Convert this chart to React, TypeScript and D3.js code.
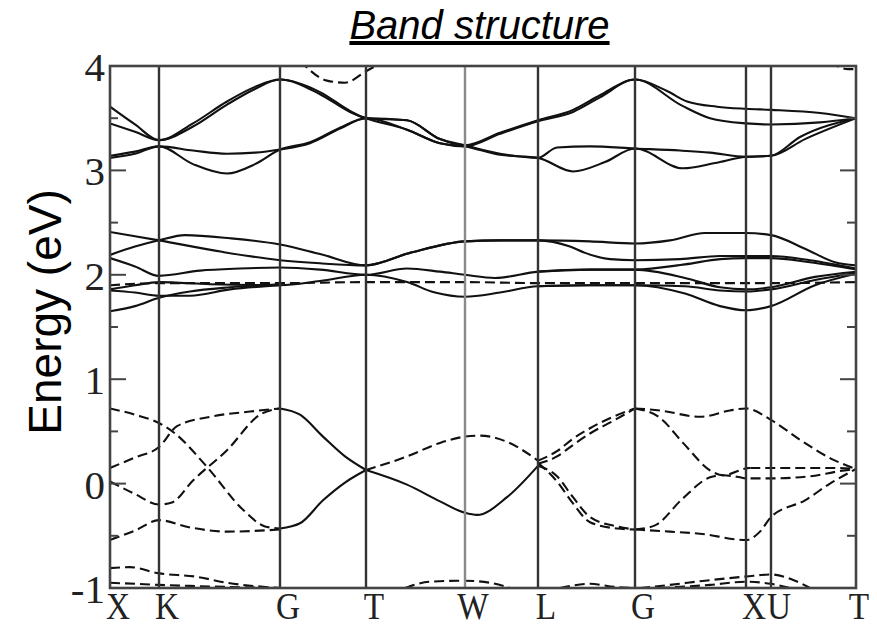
import React from "react";
import * as d3 from "d3";

type P = [number, number];

// High-symmetry points along the path (k-distance, arbitrary units)
const kLabels = ["X", "K", "G", "T", "W", "L", "G", "X", "U", "T"];
const kPos = [0, 0.49, 1.7, 2.56, 3.55, 4.28, 5.25, 6.36, 6.61, 7.46];
const [kX, kK, kG, kT, kW, kL, kG2, kX2, kU, kT2] = kPos;

const yMajorTicks = [-1, 0, 1, 2, 3, 4];
const yMinorTicks = [-0.5, 0.5, 1.5, 2.5, 3.5];

const titleText = "Band structure";
const yAxisTitle = "Energy (eV)";

// Upper conduction group (solid)
const upperBands: P[][] = [
  [[kX, 3.61], [0.25, 3.44], [kK, 3.29], [0.83, 3.45], [1.17, 3.66], [1.45, 3.8], [kG, 3.87], [2.1, 3.75], [2.4, 3.57], [kT, 3.5], [2.97, 3.48], [3.3, 3.3], [kW, 3.24], [3.9, 3.36], [kL, 3.48], [4.63, 3.58], [4.9, 3.72], [kG2, 3.87], [5.57, 3.76], [5.77, 3.66], [6.07, 3.61], [kX2, 3.59], [kU, 3.58], [7.1, 3.55], [kT2, 3.5]],
  [[kX, 3.45], [0.25, 3.37], [kK, 3.29], [0.83, 3.42], [1.17, 3.63], [1.45, 3.78], [kG, 3.87], [2.1, 3.73], [2.4, 3.56], [kT, 3.5], [2.97, 3.39], [3.3, 3.26], [kW, 3.23], [3.9, 3.35], [kL, 3.47], [4.63, 3.56], [4.9, 3.7], [kG2, 3.87], [5.72, 3.62], [6.0, 3.5], [kX2, 3.45], [kU, 3.44], [7.1, 3.46], [kT2, 3.5]],
  [[kX, 3.14], [0.25, 3.18], [kK, 3.23], [0.83, 3.19], [1.17, 3.16], [1.45, 3.17], [kG, 3.2], [2.0, 3.26], [2.3, 3.4], [kT, 3.5], [2.97, 3.48], [3.3, 3.3], [kW, 3.24], [3.9, 3.16], [kL, 3.12], [4.47, 3.22], [4.8, 3.23], [kG2, 3.21], [5.7, 3.19], [6.0, 3.17], [kX2, 3.13], [kU, 3.14], [6.9, 3.32], [kT2, 3.5]],
  [[kX, 3.12], [0.25, 3.16], [kK, 3.23], [0.83, 3.06], [1.17, 2.97], [1.45, 3.06], [kG, 3.2], [2.0, 3.27], [2.3, 3.41], [kT, 3.5], [2.97, 3.39], [3.3, 3.26], [kW, 3.23], [3.9, 3.15], [kL, 3.12], [4.63, 2.99], [4.95, 3.08], [kG2, 3.21], [5.73, 3.02], [6.05, 3.07], [kX2, 3.13], [kU, 3.14], [6.95, 3.3], [kT2, 3.5]],
];

// Middle conduction group (solid)
const middleBands: P[][] = [
  [[kX, 2.19], [0.25, 2.27], [kK, 2.33], [0.75, 2.38], [1.2, 2.35], [kG, 2.29], [2.1, 2.2], [kT, 2.09], [3.0, 2.21], [kW, 2.32], [3.9, 2.33], [kL, 2.33], [4.8, 2.32], [kG2, 2.3], [5.6, 2.33], [5.95, 2.4], [kX2, 2.4], [kU, 2.38], [6.95, 2.25], [7.25, 2.12], [kT2, 2.09]],
  [[kX, 2.41], [0.25, 2.37], [kK, 2.33], [1.12, 2.22], [kG, 2.14], [2.1, 2.11], [kT, 2.09], [3.0, 2.21], [kW, 2.32], [3.9, 2.33], [kL, 2.33], [4.6, 2.27], [4.75, 2.21], [5.0, 2.15], [kG2, 2.14], [5.7, 2.15], [6.1, 2.18], [kX2, 2.18], [kU, 2.18], [7.0, 2.14], [kT2, 2.06]],
  [[kX, 2.16], [0.25, 2.08], [kK, 1.99], [0.9, 2.04], [1.3, 2.06], [kG, 2.07], [2.1, 2.05], [kT, 2.0], [2.97, 2.06], [3.3, 2.03], [kW, 2.0], [3.85, 1.97], [kL, 2.03], [4.8, 2.05], [kG2, 2.05], [5.75, 2.1], [6.1, 2.15], [kX2, 2.16], [kU, 2.16], [7.0, 2.12], [kT2, 2.05]],
  [[kL, 2.03], [4.8, 2.05], [kG2, 2.05], [5.75, 1.97], [6.1, 1.88], [kX2, 1.86], [kU, 1.88], [7.05, 1.98], [kT2, 2.03]],
  [[kX, 1.86], [0.25, 1.9], [kK, 1.93], [1.0, 1.91], [kG, 1.9], [2.1, 1.94], [kT, 2.0], [2.97, 1.93], [3.25, 1.83], [kW, 1.79], [3.9, 1.83], [kL, 1.89], [4.8, 1.9], [kG2, 1.9], [5.75, 1.89], [6.1, 1.85], [kX2, 1.84], [kU, 1.86], [7.05, 1.95], [kT2, 2.02]],
  [[kL, 1.89], [4.8, 1.9], [kG2, 1.9], [5.75, 1.82], [6.1, 1.7], [kX2, 1.66], [kU, 1.7], [7.05, 1.9], [kT2, 2.01]],
  [[kX, 1.85], [0.25, 1.83], [kK, 1.8], [0.8, 1.8], [1.2, 1.86], [kG, 1.9]],
  [[kX, 1.65], [0.25, 1.7], [kK, 1.78], [0.8, 1.84], [1.2, 1.88], [kG, 1.91]],
];

// Valence bands drawn solid
const valenceSolid: P[][] = [
  [[kG, 0.72], [1.9, 0.66], [2.13, 0.45], [2.35, 0.26], [kT, 0.13]],
  [[kG, -0.43], [1.9, -0.38], [2.13, -0.16], [2.35, 0.01], [kT, 0.13]],
  [[kT, 0.13], [2.97, -0.01], [3.3, -0.17], [kW, -0.28], [3.67, -0.3], [3.97, -0.13], [kL, 0.17]],
];

// Dashed bands
const dashedBands: P[][] = [
  // flat band near 1.92 eV
  [[kX, 1.9], [kK, 1.92], [kG, 1.92], [kT, 1.93], [kW, 1.93], [kL, 1.92], [kG2, 1.92], [kX2, 1.92], [kU, 1.92], [kT2, 1.93]],
  // top, near 4 eV
  [[1.9, 4.05], [2.17, 3.86], [2.35, 3.84], [kT, 3.95], [2.75, 4.05]],
  [[7.2, 4.04], [7.38, 3.97], [kT2, 3.97]],
  // X - K - G
  [[kX, 0.72], [0.25, 0.66], [kK, 0.58], [0.65, 0.48], [0.97, 0.16], [1.33, -0.25], [1.55, -0.41], [kG, -0.43]],
  [[kX, 0.15], [0.25, 0.25], [kK, 0.35], [0.67, 0.55], [1.0, 0.64], [1.4, 0.69], [kG, 0.72]],
  [[kX, 0.02], [0.25, -0.1], [kK, -0.2], [0.62, -0.18], [0.83, 0.03], [1.17, 0.32], [1.5, 0.66], [kG, 0.72]],
  [[kX, -0.54], [0.25, -0.45], [kK, -0.35], [0.8, -0.42], [1.17, -0.46], [kG, -0.44]],
  [[kX, -0.81], [0.2, -0.8], [kK, -0.86], [0.85, -0.89], [1.17, -0.95], [kG, -1.0]],
  [[kX, -0.95], [0.25, -0.96], [kK, -0.97], [0.8, -0.98], [kG, -1.0]],
  // T - W - L
  [[kT, 0.13], [2.97, 0.26], [3.3, 0.39], [kW, 0.45], [3.7, 0.46], [3.97, 0.4], [kL, 0.22]],
  [[2.95, -1.0], [3.2, -0.94], [kW, -0.93], [3.8, -0.95], [4.0, -1.0]],
  // L - G
  [[kL, 0.22], [4.47, 0.31], [4.63, 0.43], [4.8, 0.53], [5.03, 0.64], [kG2, 0.72]],
  [[kL, 0.19], [4.47, 0.26], [4.63, 0.37], [4.8, 0.48], [5.05, 0.61], [kG2, 0.72]],
  [[kL, 0.17], [4.47, 0.07], [4.63, -0.13], [4.8, -0.32], [5.07, -0.41], [kG2, -0.44]],
  [[kL, 0.2], [4.47, 0.02], [4.63, -0.19], [4.8, -0.37], [5.07, -0.43], [kG2, -0.44]],
  [[4.5, -1.0], [4.8, -0.96], [5.05, -0.99], [kG2, -1.0]],
  // G - X - U - T
  [[kG2, 0.72], [5.5, 0.7], [5.9, 0.64], [6.2, 0.7], [kX2, 0.72], [kU, 0.61], [6.9, 0.42], [7.23, 0.23], [kT2, 0.14]],
  [[kG2, 0.72], [5.5, 0.63], [5.73, 0.39], [6.03, 0.11], [6.13, 0.08], [6.4, 0.15], [kX2, 0.15], [kU, 0.15], [7.2, 0.15], [kT2, 0.14]],
  [[kG2, -0.44], [5.45, -0.4], [5.72, -0.15], [6.0, 0.06], [6.13, 0.08], [6.3, 0.06], [kX2, 0.05], [kU, 0.05], [7.0, 0.07], [7.3, 0.12], [kT2, 0.14]],
  [[kG2, -0.44], [5.6, -0.46], [5.9, -0.48], [kX2, -0.54], [6.5, -0.46], [kU, -0.32], [6.95, -0.16], [7.2, 0.0], [kT2, 0.14]],
  [[5.3, -1.0], [5.6, -0.97], [5.95, -0.93], [kX2, -0.89], [kU, -0.87], [6.85, -0.93], [7.0, -1.0]],
  [[5.5, -1.0], [6.0, -0.97], [kX2, -0.94], [kU, -0.96], [6.8, -1.0]],
];

const W = 877;
const H = 628;
const left = 110;
const right = 856;
const top = 66;
const bottom = 588;

export default function App() {
  const x = d3.scaleLinear().domain([kPos[0], kPos[kPos.length - 1]]).range([left, right]);
  const y = d3.scaleLinear().domain([-1, 4]).range([bottom, top]);
  const line = d3
    .line<P>()
    .x((d) => x(d[0]))
    .y((d) => y(d[1]))
    .curve(d3.curveMonotoneX);

  const serif = "'Liberation Serif', 'Times New Roman', serif";
  const sans = "'Liberation Sans', Arial, sans-serif";

  return (
    <svg
      width={W}
      height={H}
      style={{ position: "absolute", left: 0, top: 0, background: "#fff" }}
    >
      <defs>
        <clipPath id="plotClip">
          <rect x={left} y={top} width={right - left} height={bottom - top} />
        </clipPath>
      </defs>
      <rect x={0} y={0} width={W} height={H} fill="#fff" />

      <text
        x={479.5}
        y={39}
        textAnchor="middle"
        fontFamily={sans}
        fontStyle="italic"
        fontSize={40}
        textDecoration="underline"
        fill="#000"
      >
        {titleText}
      </text>

      <g clipPath="url(#plotClip)">
        {[...upperBands, ...middleBands, ...valenceSolid].map((b, i) => (
          <path key={"s" + i} d={line(b) || ""} fill="none" stroke="#111" strokeWidth={2.1} />
        ))}
        {dashedBands.map((b, i) => (
          <path
            key={"d" + i}
            d={line(b) || ""}
            fill="none"
            stroke="#111"
            strokeWidth={2.1}
            strokeDasharray="10,5"
          />
        ))}
      </g>

      {kPos.slice(1, -1).map((k, i) => (
        <line
          key={"kl" + i}
          x1={x(k)}
          x2={x(k)}
          y1={top}
          y2={bottom}
          stroke={kLabels[i + 1] === "W" ? "#8a8a8a" : "#333"}
          strokeWidth={2.4}
        />
      ))}

      <rect
        x={left}
        y={top}
        width={right - left}
        height={bottom - top}
        fill="none"
        stroke="#444"
        strokeWidth={2.6}
      />

      {yMajorTicks.map((t) => (
        <g key={"mt" + t}>
          <line x1={left} x2={left + 16} y1={y(t)} y2={y(t)} stroke="#444" strokeWidth={2} />
          <line x1={right - 16} x2={right} y1={y(t)} y2={y(t)} stroke="#444" strokeWidth={2} />
          <text
            x={left - 5}
            y={y(t) + 15}
            textAnchor="end"
            fontFamily={serif}
            fontSize={41}
            fill="#222"
          >
            {t}
          </text>
        </g>
      ))}
      {yMinorTicks.map((t) => (
        <g key={"mn" + t}>
          <line x1={left} x2={left + 8} y1={y(t)} y2={y(t)} stroke="#444" strokeWidth={2} />
          <line x1={right - 9} x2={right} y1={y(t)} y2={y(t)} stroke="#444" strokeWidth={2} />
        </g>
      ))}

      {kPos.map((k, i) => (
        <text
          key={"kt" + i}
          transform={`translate(${Math.min(x(k) + 8, right + 3)},${619}) scale(0.9,1)`}
          textAnchor="middle"
          fontFamily={serif}
          fontSize={37}
          fill="#222"
        >
          {kLabels[i]}
        </text>
      ))}

      <text
        transform={`translate(61,312) rotate(-90)`}
        textAnchor="middle"
        fontFamily={sans}
        fontSize={46}
        fill="#000"
      >
        {yAxisTitle}
      </text>
    </svg>
  );
}
